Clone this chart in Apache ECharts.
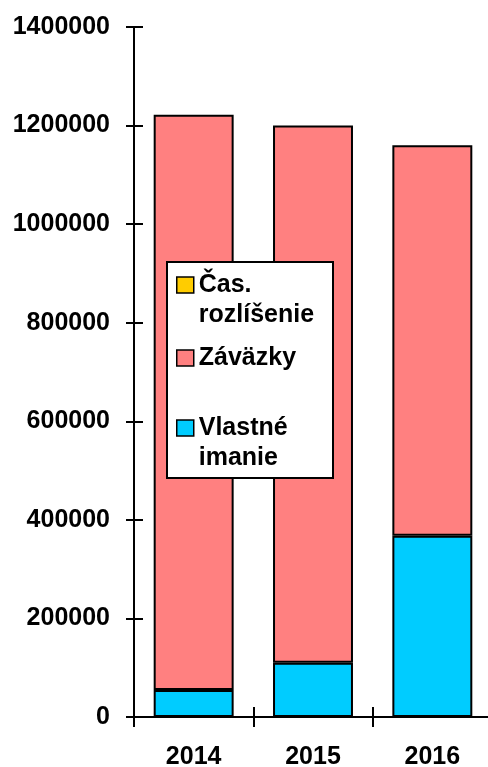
<!DOCTYPE html>
<html>
<head>
<meta charset="utf-8">
<script src="https://cdn.jsdelivr.net/npm/echarts@6/dist/echarts.min.js"></script>
<style>html,body{margin:0;padding:0;background:#fff}#c{width:488px;height:767px}</style>
</head>
<body>
<div id="c"></div>
<script>
var categories = ['2014', '2015', '2016'];
var vlastneImanie = [55000, 110000, 368000];
var zavazky = [1167000, 1090000, 792000];
var casRozlisenie = [0, 0, 0];
var yTicks = { min: 0, max: 1400000, interval: 200000 };

var FONT = 'Liberation Sans, Arial, sans-serif';
var chart = echarts.init(document.getElementById('c'), null, { renderer: 'canvas' });

function legendAt(name, top) {
  return {
    data: [name],
    orient: 'vertical',
    left: 176,
    top: top,
    padding: 0,
    itemWidth: 17,
    itemHeight: 16,
    icon: 'rect',
    selectedMode: false,
    z: 20,
    itemStyle: { borderColor: '#000', borderWidth: 1.5 },
    textStyle: { fontFamily: FONT, fontWeight: 'bold', fontSize: 25, color: '#000', lineHeight: 30 },
    formatter: function (n) {
      if (n === 'Čas. rozlíšenie') return ' \nČas.\nrozlíšenie';
      if (n === 'Vlastné imanie') return ' \nVlastné\nimanie';
      return n;
    }
  };
}

var tickText = { fontFamily: FONT, fontWeight: 'bold', fontSize: 25, color: '#000' };
var blackLine = { color: '#000', width: 2 };
var blankLabel = { show: true, fontSize: 8, color: '#000', formatter: function () { return ' '; } };

var option = {
  animation: false,
  backgroundColor: '#fff',
  grid: { left: 134, right: -4, top: 27, bottom: 50, containLabel: false, outerBoundsMode: 'none' },
  legend: [
    legendAt('Čas. rozlíšenie', 240),
    legendAt('Záväzky', 343),
    legendAt('Vlastné imanie', 383)
  ],
  graphic: [{
    type: 'rect',
    z: 10,
    shape: { x: 167, y: 262, width: 166, height: 216 },
    style: { fill: '#fff', stroke: '#000', lineWidth: 2 }
  }],
  xAxis: [{
    type: 'category',
    data: categories,
    position: 'bottom',
    z: 5,
    axisLine: { onZero: false, lineStyle: blackLine },
    axisTick: { show: true, length: 10, lineStyle: blackLine },
    axisLabel: Object.assign({ margin: 28 }, tickText),
    splitLine: { show: false }
  }, {
    type: 'category',
    data: categories,
    position: 'top',
    offset: -690,
    z: 5,
    axisLine: { show: true, onZero: false, lineStyle: blackLine },
    axisTick: { show: true, length: 10, lineStyle: blackLine },
    axisLabel: blankLabel,
    splitLine: { show: false }
  }],
  yAxis: [{
    type: 'value',
    position: 'left',
    z: 5,
    min: yTicks.min, max: yTicks.max, interval: yTicks.interval,
    axisLine: { show: true, onZero: false, lineStyle: blackLine },
    axisTick: { show: true, length: 8, lineStyle: blackLine },
    axisLabel: Object.assign({ margin: 24, formatter: function (v) { return String(v); } }, tickText),
    splitLine: { show: false }
  }, {
    type: 'value',
    position: 'right',
    offset: -358,
    z: 5,
    min: yTicks.min, max: yTicks.max, interval: yTicks.interval,
    axisLine: { show: true, onZero: false, lineStyle: blackLine },
    axisTick: { show: true, length: 9, lineStyle: blackLine },
    axisLabel: blankLabel,
    splitLine: { show: false }
  }],
  series: [{
    name: 'Vlastné imanie',
    type: 'bar',
    stack: 'total',
    barWidth: '67%',
    data: vlastneImanie,
    itemStyle: { color: '#00CCFF', borderColor: '#000', borderWidth: 2 }
  }, {
    name: 'Záväzky',
    type: 'bar',
    stack: 'total',
    data: zavazky,
    itemStyle: { color: '#FF8080', borderColor: '#000', borderWidth: 2 }
  }, {
    name: 'Čas. rozlíšenie',
    type: 'bar',
    stack: 'total',
    data: casRozlisenie,
    itemStyle: { color: '#FFCC00', borderColor: '#000', borderWidth: 0 }
  }, {
    name: 'axis-ticks',
    type: 'line',
    xAxisIndex: 1,
    yAxisIndex: 1,
    data: [],
    silent: true,
    showSymbol: false
  }]
};
chart.setOption(option);
</script>
</body>
</html>
